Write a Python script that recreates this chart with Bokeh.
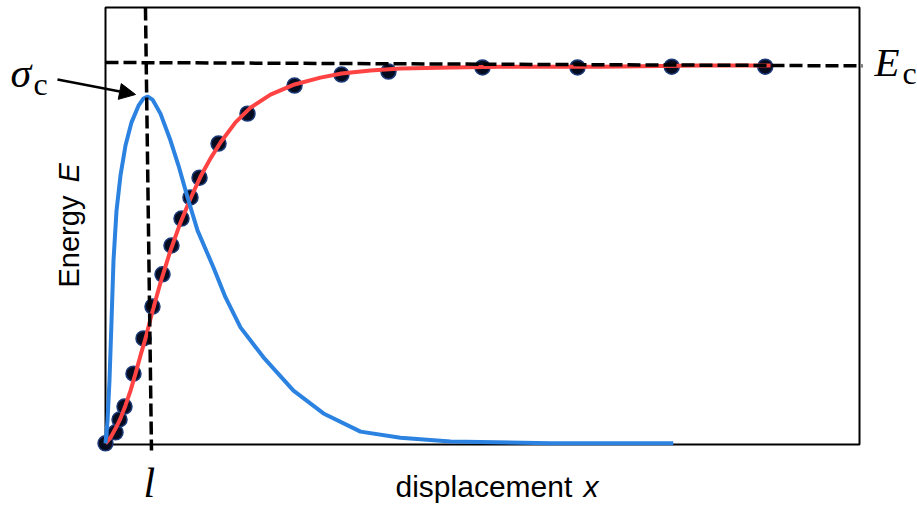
from bokeh.plotting import figure
from bokeh.models import Range1d, Label, Arrow, NormalHead
from bokeh.embed import file_html
from bokeh.resources import INLINE

# ---- data ----
dot_x = [0.0, 0.133, 0.186, 0.252, 0.371, 0.504, 0.623, 0.756, 0.875, 1.008, 1.127,
         1.247, 1.499, 1.883, 2.507, 3.130, 3.753, 5.0, 6.26, 7.51, 8.75]
dot_y = [0.003, 0.032, 0.066, 0.100, 0.187, 0.280, 0.364, 0.449, 0.525, 0.596, 0.652,
         0.704, 0.794, 0.873, 0.947, 0.976, 0.984, 0.995, 0.995, 0.997, 0.997]

fit_x = [0.0, 0.066, 0.133, 0.199, 0.265, 0.332, 0.398, 0.464, 0.531, 0.597, 0.663,
         0.729, 0.796, 0.862, 0.995, 1.127, 1.260, 1.393, 1.525, 1.724, 1.923, 2.188,
         2.507, 2.851, 3.130, 3.515, 3.912, 4.576, 5.239, 6.565, 7.891, 8.820]
fit_y = [0.003, 0.018, 0.042, 0.069, 0.103, 0.142, 0.187, 0.235, 0.280, 0.332, 0.380,
         0.427, 0.470, 0.512, 0.586, 0.649, 0.707, 0.755, 0.797, 0.850, 0.889, 0.923,
         0.950, 0.968, 0.979, 0.987, 0.992, 0.995, 0.997, 0.997, 1.0, 1.0]

stress_x = [0.0, 0.027, 0.053, 0.080, 0.106, 0.146, 0.199, 0.265, 0.345, 0.438, 0.504,
            0.557, 0.623, 0.729, 0.862, 0.968, 1.088, 1.220, 1.432, 1.592, 1.790, 2.095,
            2.493, 2.891, 3.382, 3.912, 4.576, 5.9, 7.53]
stress_y = [0.003, 0.063, 0.169, 0.327, 0.485, 0.617, 0.710, 0.789, 0.850, 0.894, 0.913,
            0.918, 0.910, 0.873, 0.802, 0.736, 0.652, 0.565, 0.467, 0.388, 0.309, 0.230,
            0.142, 0.082, 0.034, 0.018, 0.008, 0.003, 0.003]

ec_line_x = [0.0, 10.04]
ec_line_y = [1.008, 0.999]
l_line_x = [0.53, 0.61]
l_line_y = [1.153, -0.016]

box_x = [0.0, 10.0]
box_y = [0.0, 1.153]

# ---- layout helpers (pixel -> data) ----
W, H = 917, 506
PX_X, PX_Y = 75.4, 379.0
X0, Y0 = 105, 444
SHIFT = 0.38  # correction of the label anchor, as a fraction of the font size


def X(px):
    return (px - X0) / PX_X


def Y(py):
    return (Y0 - py) / PX_Y


p = figure(width=W, height=H, x_range=Range1d(X(0), X(W)), y_range=Range1d(Y(H), Y(0)),
           output_backend="svg", toolbar_location=None,
           x_axis_location=None, y_axis_location=None)
p.min_border_left = 0
p.min_border_right = 0
p.min_border_top = 0
p.min_border_bottom = 0
p.outline_line_color = None
p.grid.visible = False
p.background_fill_color = "white"
p.border_fill_color = "white"

# axes box
p.quad(left=box_x[0], right=box_x[1], bottom=box_y[0], top=box_y[1],
       fill_alpha=0, line_color="black", line_width=2)

# data points
p.scatter(dot_x, dot_y, size=15, fill_color="#060c1f", line_color="#1c3a78", line_width=1.5)
# fitted energy (red)
p.line(fit_x, fit_y, line_color="#ff4343", line_width=4)
# stress (blue)
p.line(stress_x, stress_y, line_color="#2b82e0", line_width=4)

# dashed guides
p.line(ec_line_x, ec_line_y, line_color="black", line_width=3.5, line_dash="13 5")
p.line(l_line_x, l_line_y, line_color="black", line_width=3.5, line_dash="13 5")

# arrow to peak
p.add_layout(Arrow(end=NormalHead(size=16, fill_color="black", line_color="black"),
                   x_start=X(57), y_start=Y(79), x_end=X(135), y_end=Y(94),
                   line_width=2.5, line_color="black"))

SANS = "Liberation Sans"
SERIF = "Liberation Serif"


def lab(px, py, text, font, size, style="normal", vertical=False):
    d = SHIFT * size
    if vertical:
        x, y, angle = X(px - d), Y(py), 1.5708
    else:
        x, y, angle = X(px), Y(py - d), 0.0
    p.add_layout(Label(x=x, y=y, text=text, text_font=font, text_font_size=f"{size}px",
                       text_font_style=style, angle=angle, text_align="left",
                       text_baseline="alphabetic", text_color="black"))


lab(395, 497, "displacement", SANS, 30)
lab(583, 497, "x", SANS, 30, style="italic")
lab(80, 287, "Energy", SANS, 29, vertical=True)
lab(80, 182, "E", SANS, 29, style="italic", vertical=True)

lab(10, 88, "σ", SERIF, 42, style="italic")
lab(33, 96, "c", SERIF, 32)
lab(874, 77, "E", SERIF, 41, style="italic")
lab(902, 85, "c", SERIF, 32)
lab(143, 498, "l", SERIF, 42, style="italic")

open("out.html", "w").write(file_html(p, INLINE))
